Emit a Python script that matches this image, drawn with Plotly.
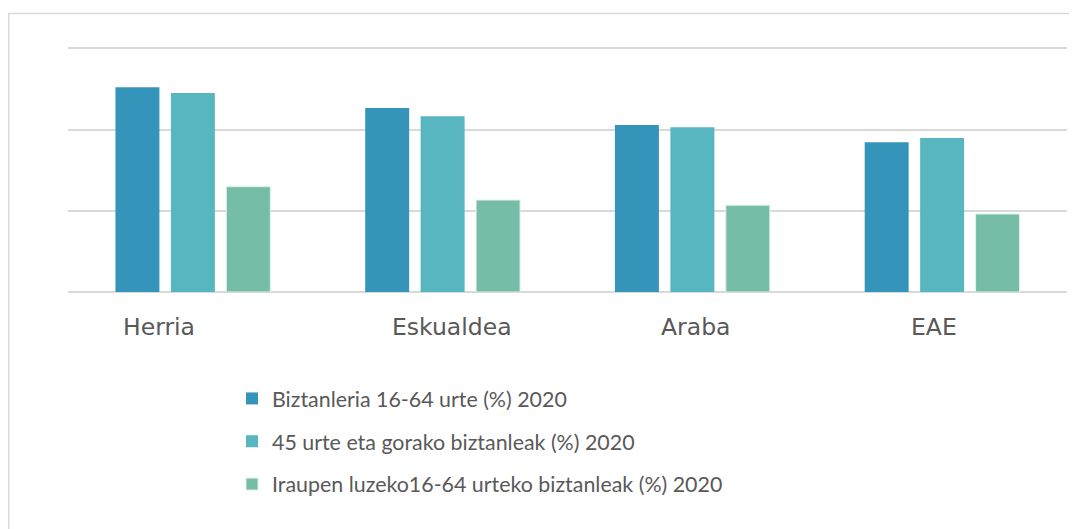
import plotly.graph_objects as go

categories = ["Herria", "Eskualdea", "Araba", "EAE"]
series_names = [
    "Biztanleria 16-64 urte (%) 2020",
    "45 urte eta gorako biztanleak (%) 2020",
    "Iraupen luzeko16-64 urteko biztanleak (%) 2020",
]
biztanleria_16_64 = [63.0, 56.6, 51.4, 46.1]
adin_45_gora = [61.2, 54.1, 50.7, 47.4]
iraupen_luzeko = [32.4, 28.3, 26.7, 24.0]
series_values = [biztanleria_16_64, adin_45_gora, iraupen_luzeko]
grid_values = [0, 25, 50, 75]
colors = ["#3494ba", "#58b6c0", "#75bda7"]
label_shifts = [-34, 9, 3, -8]

# page is offset by 8px (body margin); work in figure coords
OFF = 8
YMAX = 76
W, H = 1077 - OFF, 529 - OFF
L = 68 - OFF
R = W - (1067 - OFF)
BASE = 292 - OFF
px_per_unit = (292 - 48) / 75.0
T = round(BASE - YMAX * px_per_unit)
B = H - BASE
pw = W - L - R
ph = H - T - B


def py(page_y):
    return (BASE - (page_y - OFF)) / ph


def px(page_x):
    return ((page_x - OFF) - L) / pw


fig = go.Figure()
for i, (name, vals, col) in enumerate(zip(series_names, series_values, colors)):
    fig.add_trace(go.Bar(
        x=categories, y=vals, name=name, legendgroup=f"g{i}",
        marker=dict(color=col, line=dict(width=1 if i == 2 else 0, color="#dff0ea")),
        hoverinfo="skip",
    ))

annotations = []
for cat, sh in zip(categories, label_shifts):
    annotations.append(dict(
        x=cat, xref="x", y=py(327), yref="paper", yanchor="middle",
        xanchor="center", xshift=sh, showarrow=False, text=cat,
        font=dict(family="DejaVu Sans", size=23.5, color="#595959"),
    ))

fig.update_layout(
    width=W, height=H,
    margin=dict(l=L, r=R, t=T, b=B),
    paper_bgcolor="white", plot_bgcolor="white",
    barmode="group", bargap=0.334, bargroupgap=0.207,
    showlegend=True,
    legend=dict(
        x=px(232), xanchor="left",
        y=py(378), yanchor="top",
        orientation="v", tracegroupgap=12,
        font=dict(family="Lato", size=21.4, color="#595959"),
        bgcolor="rgba(0,0,0,0)",
    ),
    xaxis=dict(showticklabels=False, showgrid=False, showline=False, ticks=""),
    yaxis=dict(
        range=[0, YMAX], tickvals=grid_values, showticklabels=False, ticks="",
        showgrid=True, gridcolor="#d9d9d9", gridwidth=1.5,
        zeroline=True, zerolinecolor="#d9d9d9", zerolinewidth=1.5,
        showline=False,
    ),
    annotations=annotations,
    shapes=[dict(
        type="rect", xref="paper", yref="paper",
        x0=px(8.7), x1=px(1100),
        y0=py(560), y1=py(13.5),
        line=dict(color="#d9d9d9", width=1.5), fillcolor="rgba(0,0,0,0)",
        layer="below",
    )],
)

fig.write_html("out.html")
